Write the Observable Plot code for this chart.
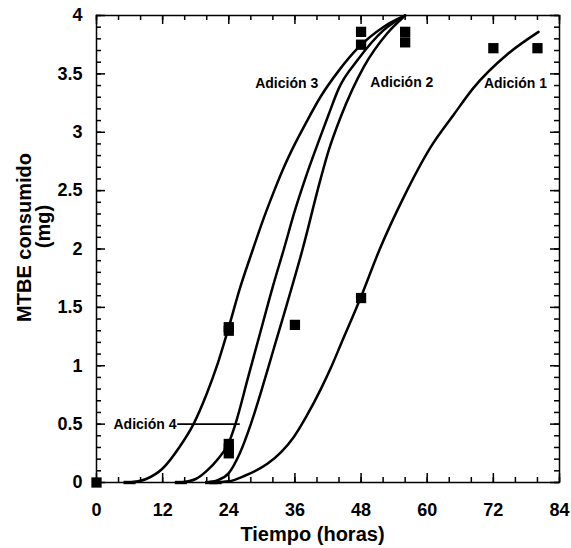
<!DOCTYPE html>
<html>
<head>
<meta charset="utf-8">
<script src="https://cdn.jsdelivr.net/npm/d3@7"></script>
<script src="https://cdn.jsdelivr.net/npm/@observablehq/plot@0.6"></script>
<style>
  html, body { margin: 0; padding: 0; background: white; }
  #chart { width: 571px; height: 548px; }
</style>
</head>
<body>
<div id="chart"></div>
<script>
// ---- Data ----
// Fitted curves (time in hours, MTBE consumed in mg)
const adicion3T = [6, 9, 12, 15, 17.6, 20, 22, 24, 26, 28.4, 30, 32, 34, 36, 38, 40.6, 44, 47.4, 52, 56];
const adicion3Y = [0, 0.03, 0.12, 0.3, 0.5, 0.76, 1.02, 1.33, 1.66, 2.0, 2.22, 2.47, 2.7, 2.9, 3.08, 3.3, 3.53, 3.72, 3.9, 4.0];

const adicion4T = [15.3, 18, 20, 22, 24, 25.2, 27.5, 29.8, 32, 34, 36, 38, 40.6, 42.1, 44, 47.4, 52, 56];
const adicion4Y = [0, 0.03, 0.1, 0.2, 0.34, 0.5, 0.9, 1.3, 1.68, 2.0, 2.33, 2.62, 2.96, 3.15, 3.38, 3.62, 3.87, 4.0];

const adicion2T = [20, 22, 24, 26, 28, 30, 32, 34.5, 37.4, 40.6, 42.1, 44.3, 48.5, 52.8, 56];
const adicion2Y = [0, 0.02, 0.08, 0.25, 0.5, 0.8, 1.12, 1.52, 2.0, 2.59, 2.84, 3.13, 3.56, 3.85, 4.0];

const adicion1T = [21, 24, 27, 31, 33.5, 35.8, 38, 40.7, 42.5, 44.3, 47.9, 51.4, 55.7, 60.6, 64.8, 68.4, 74.6, 80.2];
const adicion1Y = [0, 0.01, 0.06, 0.16, 0.26, 0.39, 0.56, 0.8, 0.98, 1.18, 1.58, 2.0, 2.44, 2.87, 3.15, 3.38, 3.67, 3.86];

// Measured points (squares)
const pointT = [0, 24, 24, 24, 24, 24, 36, 48, 48, 48, 56, 56, 72, 80];
const pointY = [0, 1.33, 1.30, 0.33, 0.29, 0.25, 1.35, 1.58, 3.86, 3.75, 3.86, 3.77, 3.72, 3.72];

// Points lying on the baseline (drawn flattened)
const baseT = [6, 15.3, 20.8, 21.6];
const baseY = [0, 0, 0, 0];

// Curve labels
const labelText = ["Adición 1", "Adición 2", "Adición 3", "Adición 4"];
const labelT = [76.0, 55.4, 34.5, 8.8];
const labelY = [3.42, 3.43, 3.42, 0.5];

// Leader line for "Adición 4"
const leaderT1 = [14.65];
const leaderT2 = [26.0];
const leaderY = [0.5];

// Axis ticks / labels
const xTickLabels = [0, 12, 24, 36, 48, 60, 72, 84];
const xMinorTicks = d3.range(0, 85, 4);
const yTickLabels = [0, 0.5, 1, 1.5, 2, 2.5, 3, 3.5, 4];
const yMinorTicks = d3.range(0, 41, 1).map(d => d / 10);

const xTitle = "Tiempo (horas)";
const yTitle1 = "MTBE consumido";
const yTitle2 = "(mg)";

// ---- Layout ----
const W = 571, H = 548;
const mL = 96, mR = 12, mT = 15, mB = 66;
const innerW = W - mL - mR;
const innerH = H - mT - mB;

// ---- Build tables ----
const curves = [
  ...adicion3T.map((t, i) => ({serie: "Adición 3", t, y: adicion3Y[i]})),
  ...adicion4T.map((t, i) => ({serie: "Adición 4", t, y: adicion4Y[i]})),
  ...adicion2T.map((t, i) => ({serie: "Adición 2", t, y: adicion2Y[i]})),
  ...adicion1T.map((t, i) => ({serie: "Adición 1", t, y: adicion1Y[i]}))
];
const points = pointT.map((t, i) => ({t, y: pointY[i]}));
const basePoints = baseT.map((t, i) => ({t, y: baseY[i]}));
const labels = labelText.map((text, i) => ({text, t: labelT[i], y: labelY[i]}));
const leaders = leaderT1.map((t1, i) => ({t1, t2: leaderT2[i], y: leaderY[i]}));

const flatSquare = {
  draw(context, size) {
    const w = Math.sqrt(size);
    context.rect(-w / 2, -1.7, w, 3.4);
  }
};

const font = "'Liberation Sans', Arial, Helvetica, sans-serif";
const tickColor = "black";
const tickWidth = 1.5;

// inward ticks drawn as rules trimmed by insets
function bottomTicks(data, len) { return Plot.ruleX(data, {x: d => d, insetTop: innerH - len, stroke: tickColor, strokeWidth: tickWidth}); }
function topTicks(data, len) { return Plot.ruleX(data, {x: d => d, insetBottom: innerH - len, stroke: tickColor, strokeWidth: tickWidth}); }
function leftTicks(data, len) { return Plot.ruleY(data, {y: d => d, insetRight: innerW - len, stroke: tickColor, strokeWidth: tickWidth}); }
function rightTicks(data, len) { return Plot.ruleY(data, {y: d => d, insetLeft: innerW - len, stroke: tickColor, strokeWidth: tickWidth}); }

const chart = Plot.plot({
  width: W,
  height: H,
  marginLeft: mL,
  marginRight: mR,
  marginTop: mT,
  marginBottom: mB,
  x: {domain: [0, 84], label: null},
  y: {domain: [0, 4], label: null},
  style: {fontFamily: font, fontWeight: "bold", background: "white", color: "black"},
  marks: [
    // inward ticks
    bottomTicks(xMinorTicks, 5),
    bottomTicks(xTickLabels, 9),
    topTicks(xMinorTicks, 5),
    topTicks(xTickLabels, 9),
    leftTicks(yMinorTicks, 5),
    leftTicks(yTickLabels, 9),
    rightTicks(yMinorTicks, 5),
    rightTicks(yTickLabels, 9),
    // tick labels
    Plot.axisX(xTickLabels, {anchor: "bottom", tickSize: 0, tickPadding: 21, tickFormat: d => String(d), label: null, fontSize: 18, fontWeight: "bold"}),
    Plot.axisY(yTickLabels, {anchor: "left", tickSize: 0, tickPadding: 14, tickFormat: d => String(d), label: null, fontSize: 18, fontWeight: "bold"}),
    // frame
    Plot.frame({stroke: "black", strokeWidth: 1.5}),
    // curves
    Plot.line(curves, {x: "t", y: "y", z: "serie", curve: "monotone-x", stroke: "black", strokeWidth: 2.5}),
    // leader
    Plot.link(leaders, {x1: "t1", x2: "t2", y1: "y", y2: "y", stroke: "black", strokeWidth: 1.6}),
    // points
    Plot.dot(points, {x: "t", y: "y", symbol: "square", r: 5.8, fill: "black", stroke: "none"}),
    Plot.dot(basePoints, {x: "t", y: "y", symbol: flatSquare, r: 6.8, fill: "black", stroke: "none"}),
    // curve labels
    Plot.text(labels, {x: "t", y: "y", text: "text", fontSize: 14, fontWeight: "bold", fill: "black", textAnchor: "middle", lineAnchor: "middle"}),
    // axis titles
    Plot.text([xTitle], {frameAnchor: "bottom", text: d => d, textAnchor: "middle", lineAnchor: "bottom", dy: 58, dx: -15.5, fontSize: 20, fontWeight: "bold", fill: "black"}),
    Plot.text([yTitle1], {frameAnchor: "left", text: d => d, rotate: -90, textAnchor: "middle", lineAnchor: "bottom", dx: -66, dy: -11.5, fontSize: 20, fontWeight: "bold", fill: "black"}),
    Plot.text([yTitle2], {frameAnchor: "left", text: d => d, rotate: -90, textAnchor: "middle", lineAnchor: "bottom", dx: -47, dy: -22.5, fontSize: 20, fontWeight: "bold", fill: "black"})
  ]
});

document.getElementById("chart").appendChild(chart);
</script>
</body>
</html>
